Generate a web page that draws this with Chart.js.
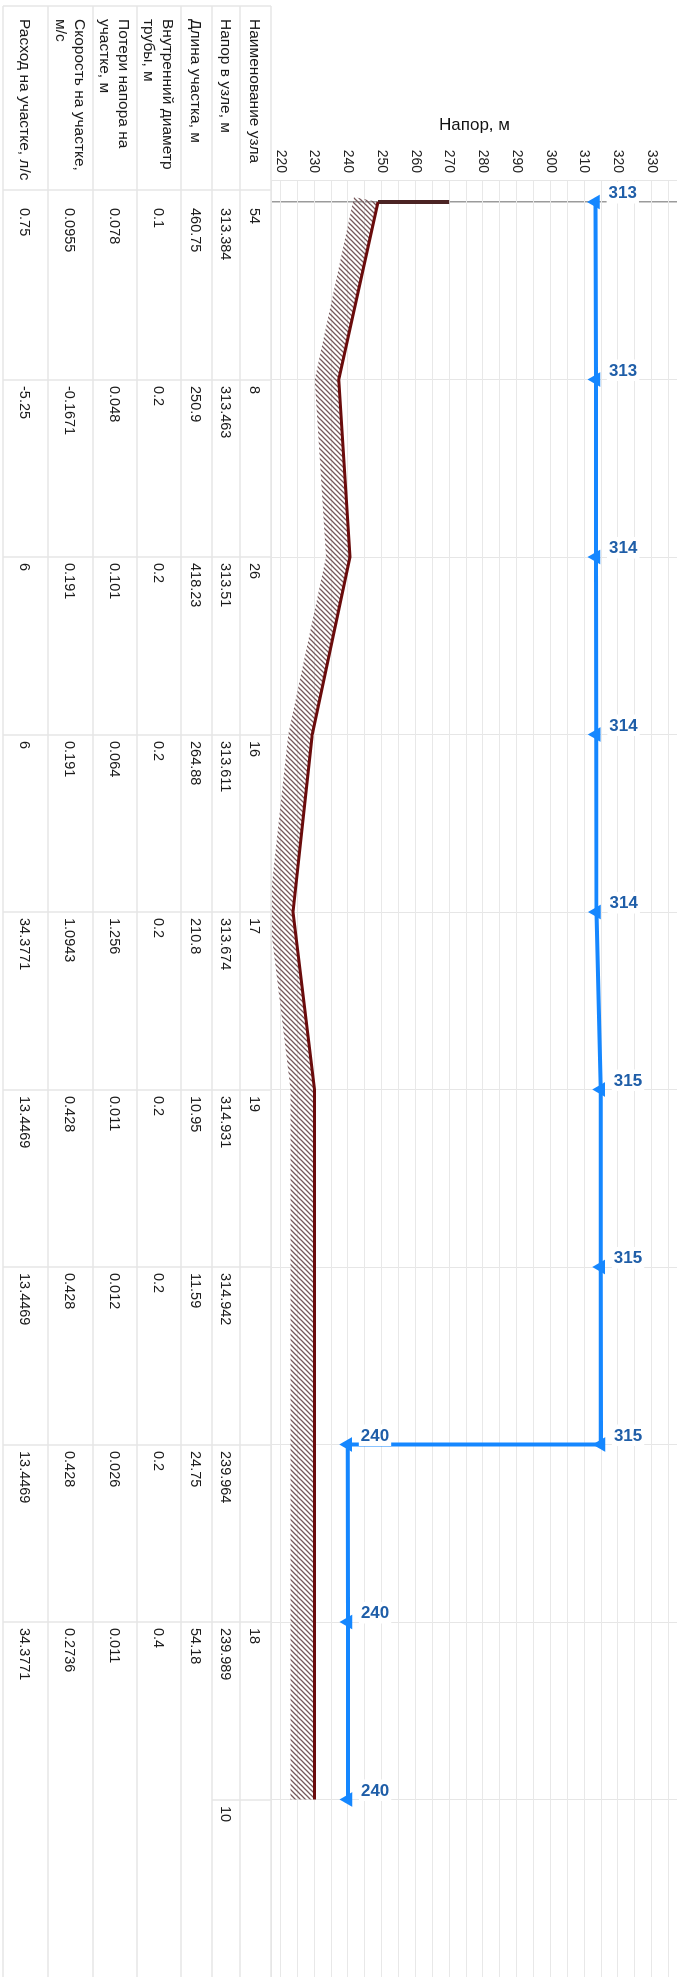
<!DOCTYPE html>
<html>
<head>
<meta charset="utf-8">
<script src="https://cdn.jsdelivr.net/npm/chart.js@4.4.0/dist/chart.umd.min.js"></script>
<style>
html, body { margin: 0; padding: 0; overflow: hidden; background: #fff; }
/* профиль рисуется горизонтально и поворачивается на 90° по часовой */
#rot { position: absolute; left: 0; top: 0; width: 1977px; height: 681px;
       transform-origin: 0 0; transform: translateX(681px) rotate(90deg); }
</style>
</head>
<body>
<div id="rot"><canvas id="profile" width="1977" height="681"></canvas></div>
<script>
// строки таблицы (по узлам / участкам)
const nodeNames  = ['54', '8', '26', '16', '17', '19', '', '', '18', ''];
const headText   = ['313.384', '313.463', '313.51', '313.611', '313.674', '314.931', '314.942', '239.964', '239.989', '10'];
const lengthText = ['460.75', '250.9', '418.23', '264.88', '210.8', '10.95', '11.59', '24.75', '54.18', ''];
const diamText   = ['0.1', '0.2', '0.2', '0.2', '0.2', '0.2', '0.2', '0.2', '0.4', ''];
const lossText   = ['0.078', '0.048', '0.101', '0.064', '1.256', '0.011', '0.012', '0.026', '0.011', ''];
const speedText  = ['0.0955', '-0.1671', '0.191', '0.191', '1.0943', '0.428', '0.428', '0.428', '0.2736', ''];
const flowText   = ['0.75', '-5.25', '6', '6', '34.3771', '13.4469', '13.4469', '13.4469', '34.3771', ''];

const rowTitles = [
    ['Наименование узла'],
    ['Напор в узле, м'],
    ['Длина участка, м'],
    ['Внутренний диаметр', 'трубы, м'],
    ['Потери напора на', 'участке, м'],
    ['Скорость на участке,', 'м/с'],
    ['Расход на участке, л/с']
];
const tableRows = [nodeNames, headText, lengthText, diamText, lossText, speedText, flowText];

// пьезометрическая линия (напор), в узле 7 - перепад
const headX = [0, 1, 2, 3, 4, 5, 6, 7, 7, 8, 9];
const headY = [313.384, 313.463, 313.51, 313.611, 313.674, 314.931, 314.942, 314.95, 239.964, 239.989, 240.0];

// отметки земли
const groundX = [0, 1, 2, 3, 4, 5, 6, 7, 8, 9];
const groundY = [248.9, 237.3, 240.6, 229.4, 223.7, 230.1, 230.1, 230.1, 230.1, 230.1];

// вертикальный отрезок в первом узле
const wellX = [0, 0];
const wellY = [248.9, 270];

const headTicks = [220, 230, 240, 250, 260, 270, 280, 290, 300, 310, 320, 330];

const toPoints = (xs, ys) => xs.map((x, i) => ({x: x, y: ys[i]}));

// границы строк таблицы (по вертикали в неповернутом виде)
const rowEdges = [410, 441, 469, 500, 544, 588, 633, 678];
const tableLeft = 6;
const headerRight = 190;

Chart.defaults.font.family = '"Liberation Sans", Arial, sans-serif';

// штриховка под линией земли
const hatchTile = (() => {
    const c = document.createElement('canvas');
    c.width = 5; c.height = 5;
    const g = c.getContext('2d');
    g.strokeStyle = '#75585a';
    g.lineWidth = 1.25;
    g.beginPath();
    g.moveTo(-1, 6); g.lineTo(6, -1);
    g.moveTo(-1, 1); g.lineTo(1, -1);
    g.moveTo(4, 6); g.lineTo(6, 4);
    g.stroke();
    return c;
})();

const groundHatch = {
    id: 'groundHatch',
    beforeDatasetsDraw(chart) {
        const pts = chart.getDatasetMeta(1).data;
        const {ctx, chartArea: a} = chart;
        ctx.save();
        ctx.beginPath();
        ctx.rect(a.left, a.top, a.right - a.left, a.bottom - a.top);
        ctx.clip();
        ctx.beginPath();
        pts.forEach((p, i) => i ? ctx.lineTo(p.x, p.y) : ctx.moveTo(p.x, p.y));
        for (let i = pts.length - 1; i >= 0; i--) {
            ctx.lineTo(pts[i].x - (i === 0 ? 5 : 0), pts[i].y + 24);
        }
        ctx.closePath();
        ctx.fillStyle = ctx.createPattern(hatchTile, 'repeat');
        ctx.fill();
        ctx.restore();
    }
};

// подписи напора у стрелок (горизонтальные после поворота)
const headLabels = {
    id: 'headLabels',
    afterDatasetsDraw(chart) {
        const {ctx} = chart;
        const pts = chart.getDatasetMeta(0).data;
        ctx.save();
        ctx.font = 'bold 17px "Liberation Sans", Arial, sans-serif';
        pts.forEach((p, i) => {
            const t = String(Math.round(headY[i]));
            const w = ctx.measureText(t).width;
            ctx.save();
            ctx.translate(p.x, p.y);
            ctx.rotate(-Math.PI / 2);
            ctx.fillStyle = '#fff';
            ctx.fillRect(11, -20, w + 4, 21.5);
            ctx.fillStyle = '#1f5ea8';
            ctx.fillText(t, 13, -4);
            ctx.restore();
        });
        ctx.restore();
    }
};

// таблица под профилем
const profileTable = {
    id: 'profileTable',
    afterDraw(chart) {
        const {ctx, width} = chart;
        const cols = nodeNames.map((_, i) => Math.round(chart.scales.x.getPixelForValue(i)));
        const top = rowEdges[0], bottom = rowEdges[rowEdges.length - 1];
        ctx.save();
        ctx.strokeStyle = '#e6e6e6';
        ctx.lineWidth = 1.5;
        ctx.beginPath();
        rowEdges.forEach(v => { ctx.moveTo(tableLeft, v); ctx.lineTo(width, v); });
        [tableLeft, headerRight].concat(cols.slice(1, -1)).forEach(u => {
            ctx.moveTo(u, top); ctx.lineTo(u, bottom);
        });
        const last = cols[cols.length - 1];
        ctx.moveTo(last, top); ctx.lineTo(last, rowEdges[2]);
        ctx.stroke();

        ctx.fillStyle = '#1a1a1a';
        ctx.textBaseline = 'middle';
        ctx.font = '15.5px "Liberation Sans", Arial, sans-serif';
        rowTitles.forEach((lines, r) => {
            const mid = (rowEdges[r] + rowEdges[r + 1]) / 2 + 1;
            lines.forEach((s, k) => ctx.fillText(s, 19, mid + (k - (lines.length - 1) / 2) * 19));
        });
        ctx.font = '14.5px "Liberation Sans", Arial, sans-serif';
        tableRows.forEach((row, r) => {
            const mid = (rowEdges[r] + rowEdges[r + 1]) / 2 + 1;
            row.forEach((s, i) => ctx.fillText(s, cols[i] + 6, mid));
        });
        ctx.restore();
    }
};

const gridValues = [];
for (let v = 220; v <= 335; v += 5) gridValues.push(v);

new Chart(document.getElementById('profile'), {
    type: 'line',
    data: {
        datasets: [{
            label: 'Напор',
            data: toPoints(headX, headY),
            borderColor: '#1587ff',
            borderWidth: 4,
            pointStyle: 'triangle',
            rotation: 180,
            pointRadius: 8.5,
            pointBorderWidth: 0,
            pointBackgroundColor: '#1587ff',
            tension: 0
        }, {
            label: 'Земля',
            data: toPoints(groundX, groundY),
            borderColor: '#6a0c0c',
            borderWidth: 3,
            pointRadius: 0,
            tension: 0
        }, {
            label: 'Оголовок',
            data: toPoints(wellX, wellY),
            borderColor: '#4b2323',
            borderWidth: 4,
            pointRadius: 0
        }]
    },
    options: {
        responsive: false,
        animation: false,
        devicePixelRatio: 1,
        layout: { autoPadding: false, padding: { top: 4, left: 0, right: 0, bottom: 0 } },
        plugins: {
            legend: { display: false },
            tooltip: { enabled: false }
        },
        scales: {
            x: {
                type: 'linear',
                min: -0.124,
                max: 10,
                afterBuildTicks(s) { s.ticks = nodeNames.map((_, i) => ({value: i})); },
                afterFit(s) { s.height = 272; s.paddingLeft = 0; s.paddingRight = 0; },
                ticks: { display: false },
                grid: {
                    drawTicks: false,
                    color: c => c.index === 0 ? '#9b9b9b' : '#e6e6e6',
                    lineWidth: c => c.index === 0 ? 1.5 : 1
                },
                border: { color: '#e6e6e6' }
            },
            y: {
                min: 217.5,
                max: 337.5,
                afterBuildTicks(s) { s.ticks = gridValues.map(v => ({value: v})); },
                afterFit(s) { s.width = 180; s.paddingTop = 0; s.paddingBottom = 0; },
                border: { color: '#e6e6e6' },
                grid: { color: '#e8e8e8', drawTicks: false },
                ticks: {
                    autoSkip: false,
                    padding: 7,
                    color: '#222',
                    font: { size: 14 },
                    callback: v => headTicks.includes(v) ? String(v) : ''
                },
                title: {
                    display: true,
                    text: 'Напор, м',
                    color: '#111',
                    font: { size: 17 },
                    padding: { top: 115, bottom: 0 }
                }
            }
        }
    },
    plugins: [groundHatch, headLabels, profileTable]
});
</script>
</body>
</html>
